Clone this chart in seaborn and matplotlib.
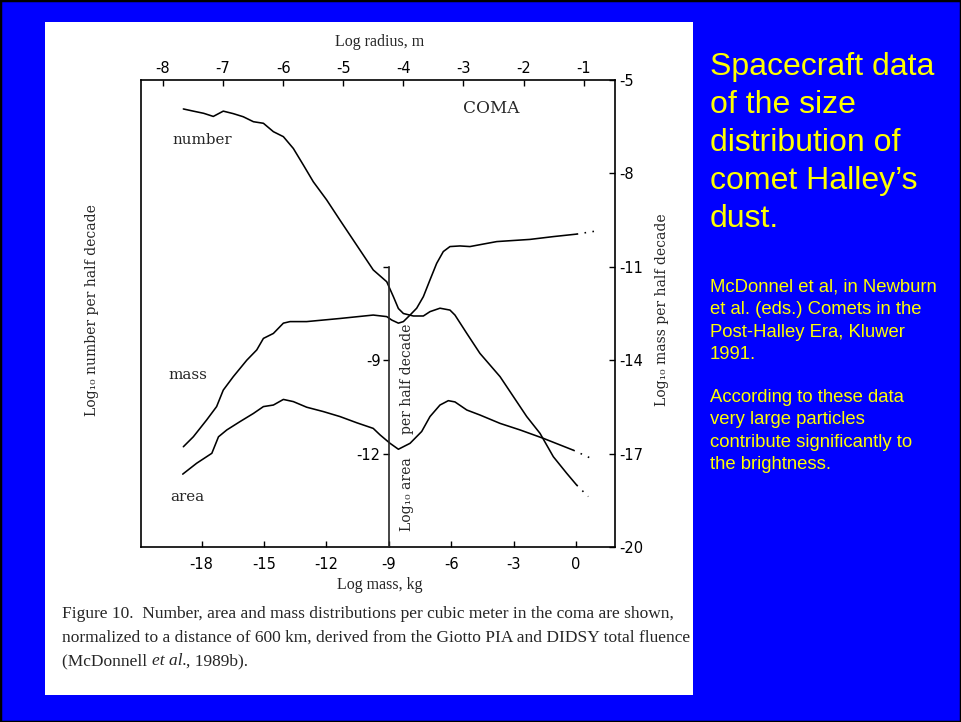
import matplotlib
matplotlib.use("Agg")
import matplotlib.pyplot as plt
from matplotlib.patches import Rectangle
import numpy as np
import pandas as pd
import seaborn as sns

# ---- data: log10 mass (kg) vs log10 distributions per half decade ----
number_mass = [-18.88, -18.4, -17.9, -17.44, -16.96, -16.48, -16.0, -15.51, -15.03, -14.55,
               -14.07, -13.59, -13.11, -12.63, -11.99, -11.35, -10.71, -9.75, -9.10, -8.78,
               -8.54, -8.30, -7.82, -7.34, -7.02, -6.54, -6.06, -5.82, -5.25, -4.62, -3.65,
               -3.01, -2.37, -1.73, -1.09, -0.45, 0.03]
number_val = [2.07, 2.00, 1.93, 1.83, 2.00, 1.92, 1.82, 1.66, 1.61, 1.34,
              1.18, 0.80, 0.27, -0.27, -0.85, -1.50, -2.14, -3.10, -3.48, -3.96,
              -4.34, -4.50, -4.58, -4.58, -4.44, -4.33, -4.39, -4.55, -5.14, -5.78, -6.53,
              -7.17, -7.81, -8.35, -9.10, -9.63, -10.01]
number_ext_mass = [0.03, 0.59]
number_ext_val = [-10.01, -10.38]

mass_mass = [-18.88, -18.4, -17.76, -17.28, -16.96, -16.48, -15.83, -15.35, -15.03, -14.55,
             -14.07, -13.75, -12.95, -11.35, -9.75, -9.10, -8.86, -8.54, -8.30, -7.98,
             -7.66, -7.34, -7.02, -6.70, -6.38, -6.06, -5.58, -5.10, -4.46, -3.81, -2.21,
             -1.09, 0.03]
mass_val = [-16.78, -16.46, -15.92, -15.49, -14.96, -14.53, -14.0, -13.67, -13.30, -13.14,
            -12.81, -12.76, -12.76, -12.66, -12.55, -12.60, -12.71, -12.81, -12.76, -12.55,
            -12.33, -11.96, -11.42, -10.89, -10.51, -10.35, -10.33, -10.35, -10.27, -10.19, -10.12,
            -10.03, -9.95]
mass_ext_mass = [0.03, 1.07]
mass_ext_val = [-9.95, -9.84]

area_mass = [-18.91, -18.24, -17.51, -17.19, -16.79, -16.15, -15.51, -15.03, -14.55, -14.07,
             -13.59, -12.95, -12.15, -11.35, -10.54, -9.75, -9.42, -8.94, -8.54, -7.98,
             -7.42, -7.02, -6.54, -6.14, -5.82, -5.25, -4.62, -3.65, -2.69, -1.57, -0.13]
area_val = [-12.66, -12.31, -11.99, -11.46, -11.24, -10.97, -10.71, -10.49, -10.44, -10.26,
            -10.33, -10.51, -10.65, -10.81, -11.01, -11.19, -11.40, -11.67, -11.86, -11.67,
            -11.29, -10.81, -10.44, -10.30, -10.34, -10.60, -10.76, -11.03, -11.24, -11.51, -11.89]
area_ext_mass = [-0.13, 0.91]
area_ext_val = [-11.89, -12.21]

mass_ticks = [-18, -15, -12, -9, -6, -3, 0]
radius_ticks = [-8, -7, -6, -5, -4, -3, -2, -1]
number_ticks = [3, 0, -3, -6, -9, -12]
massdist_ticks = [-5, -8, -11, -14, -17, -20]
area_ticks = [-6, -9, -12]
area_tick_labels = ["", "-9", "-12"]

number_df = pd.DataFrame({"log_mass": number_mass, "value": number_val})
mass_df = pd.DataFrame({"log_mass": mass_mass, "value": mass_val})
area_df = pd.DataFrame({"log_mass": area_mass, "value": area_val})

sns.set_style("ticks")
plt.rcParams["font.family"] = ["DejaVu Sans"]

W, H = 961, 722
BLUE = "#0000FF"
YELLOW = "#FFFF00"
fig = plt.figure(figsize=(W / 100, H / 100), dpi=100, facecolor=BLUE)

def fx(px):
    return px / W

def fy(py):
    return 1 - py / H

# outer frame and white figure panel (behind the axes)
fig.patches.append(Rectangle((0, 0), 1, 1, transform=fig.transFigure, fill=False,
                             edgecolor="black", linewidth=2.5, zorder=-10))
fig.patches.append(Rectangle((fx(45), fy(695)), fx(693) - fx(45), fy(22) - fy(695),
                             transform=fig.transFigure, facecolor="white",
                             edgecolor="none", zorder=-10))

ax_l, ax_r, ax_b, ax_t = 140.7, 615, 547, 80
ax = fig.add_axes([fx(ax_l), fy(ax_b), fx(ax_r) - fx(ax_l), fy(ax_t) - fy(ax_b)])
ax.set_facecolor("none")

XLIM = (-20.93, 1.875)
LW = 1.15
TICK_FS = 10.5
line_kw = dict(color="black", linewidth=LW, sort=False, estimator=None, legend=False)
dotted = (0, (1, 4))

# number distribution on the left scale
sns.lineplot(data=number_df, x="log_mass", y="value", ax=ax, **line_kw)
ax.plot(number_ext_mass, number_ext_val, color="black", linewidth=LW, linestyle=dotted)
ax.set_xlim(*XLIM)
ax.set_ylim(-12, 3)
ax.set_xticks(mass_ticks)
ax.set_xticklabels([str(t) for t in mass_ticks])
ax.set_yticks(number_ticks)
ax.set_yticklabels([str(t) for t in number_ticks])
ax.tick_params(direction="in", length=4, width=1, labelsize=TICK_FS, colors="black")
ax.tick_params(axis="x", pad=7)
ax.tick_params(axis="y", pad=6)
ax.set_xlabel("")
ax.set_ylabel("")
for s in ax.spines.values():
    s.set_linewidth(1.2)
    s.set_color("black")

# mass distribution on the right scale
ax_m = ax.twinx()
sns.lineplot(data=mass_df, x="log_mass", y="value", ax=ax_m, **line_kw)
ax_m.plot(mass_ext_mass, mass_ext_val, color="black", linewidth=LW, linestyle=dotted)
ax_m.set_xlim(*XLIM)
ax_m.set_ylim(-20, -5)
ax_m.set_yticks(massdist_ticks)
ax_m.set_yticklabels([str(t) for t in massdist_ticks])
ax_m.tick_params(direction="in", length=4, width=1, labelsize=TICK_FS, pad=3, colors="black")
ax_m.set_ylabel("")
ax_m.set_xlabel("")
for s in ax_m.spines.values():
    s.set_visible(False)

# area distribution on its own scale, with a vertical axis at log mass = -9
ax_a = ax.twinx()
sns.lineplot(data=area_df, x="log_mass", y="value", ax=ax_a, **line_kw)
ax_a.plot(area_ext_mass, area_ext_val, color="black", linewidth=LW, linestyle=dotted)
ax_a.set_xlim(*XLIM)
ax_a.set_ylim(-15, 0)
for name, s in ax_a.spines.items():
    s.set_visible(name == "left")
ax_a.spines["left"].set_position(("data", -9))
ax_a.spines["left"].set_bounds(-15, -6)
ax_a.spines["left"].set_linewidth(1.2)
ax_a.yaxis.tick_left()
ax_a.set_yticks(area_ticks)
ax_a.set_yticklabels(area_tick_labels)
ax_a.tick_params(axis="y", direction="out", length=4, width=1, labelsize=TICK_FS, pad=2,
                 colors="black")
ax_a.set_ylabel("")
ax_a.set_xlabel("")

# log radius scale along the top
ax_top = ax.twiny()
ax_top.set_xlim(-8.371, -0.479)
ax_top.set_xticks(radius_ticks)
ax_top.set_xticklabels([str(t) for t in radius_ticks])
ax_top.tick_params(direction="in", length=4, width=1, labelsize=TICK_FS, pad=3, colors="black")
for s in ax_top.spines.values():
    s.set_visible(False)
ax_top.set_yticks([])

# labels inside the plot
serif_in = ["DejaVu Serif"]
ax.text(-17.98, 1.07, "number", family=serif_in, fontsize=10.8, ha="center", va="center")
ax.text(-18.65, -6.48, "mass", family=serif_in, fontsize=10.8, ha="center", va="center")
ax.text(-18.7, -10.4, "area", family=serif_in, fontsize=10.8, ha="center", va="center")
ax.text(-4.09, 2.07, "COMA", family=serif_in, fontsize=12.2, ha="center", va="center")
ax.text(-8.13, -6.6, "per half decade", family=serif_in, fontsize=10, rotation=90,
        ha="center", va="center")
ax.text(-8.13, -10.3, "Log\u2081\u2080 area", family=serif_in, fontsize=10, rotation=90,
        ha="center", va="center")

# axis titles
fig.text(fx(92), fy(310), "Log\u2081\u2080 number per half decade", family=serif_in,
         fontsize=10, rotation=90, ha="center", va="center")
fig.text(fx(662), fy(310), "Log\u2081\u2080 mass per half decade", family=serif_in,
         fontsize=10, rotation=90, ha="center", va="center")
fig.text(fx(380), fy(42), "Log radius, m", family=["Liberation Serif"], fontsize=11.5,
         ha="center", va="center")
fig.text(fx(380), fy(585), "Log mass, kg", family=["Liberation Serif"], fontsize=11.5,
         ha="center", va="center")

# figure caption
CAP_FS = 12.55
cap_font = ["Liberation Serif"]
caption = [
    "Figure 10.  Number, area and mass distributions per cubic meter in the coma are shown,",
    "normalized to a distance of 600 km, derived from the Giotto PIA and DIDSY total fluence",
]
for i, line in enumerate(caption):
    fig.text(fx(62), fy(618 + 23.5 * i), line, family=cap_font, fontsize=CAP_FS,
             ha="left", va="baseline")
renderer = fig.canvas.get_renderer()
x_px = 62
for piece, style in [("(McDonnell ", "normal"), ("et al.", "italic"), (", 1989b).", "normal")]:
    t = fig.text(fx(x_px), fy(618 + 23.5 * 2), piece, family=cap_font, fontsize=CAP_FS,
                 style=style, ha="left", va="baseline")
    x_px += t.get_window_extent(renderer).width

# slide text on the right
title_lines = ["Spacecraft data", "of the size", "distribution of", "comet Halley\u2019s", "dust."]
for i, line in enumerate(title_lines):
    fig.text(fx(710), fy(75 + 38 * i), line, family=["Liberation Sans"], fontsize=23,
             color=YELLOW, ha="left", va="baseline")
ref_lines = ["McDonnel et al, in Newburn", "et al. (eds.) Comets in the",
             "Post-Halley Era, Kluwer", "1991."]
for i, line in enumerate(ref_lines):
    fig.text(fx(710), fy(292 + 22.3 * i), line, family=["Liberation Sans"], fontsize=13.3,
             color=YELLOW, ha="left", va="baseline")
note_lines = ["According to these data", "very large particles",
              "contribute significantly to", "the brightness."]
for i, line in enumerate(note_lines):
    fig.text(fx(710), fy(402 + 22.3 * i), line, family=["Liberation Sans"], fontsize=13.3,
             color=YELLOW, ha="left", va="baseline")

fig.savefig("out.png", dpi=100, facecolor=BLUE)
